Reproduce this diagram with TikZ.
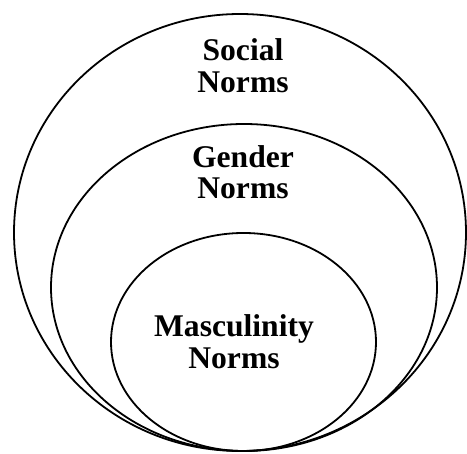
\documentclass[tikz,border=0pt]{standalone}
\usepackage{fontspec}
\setmainfont{Liberation Serif}
\usepackage{tikz}
\usetikzlibrary{positioning}
\tikzset{
  ring/.style    = {draw=black,line width=0.9pt},
  normlbl/.style = {align=center,inner sep=0pt,
                    font=\bfseries\fontsize{15.8}{15.75}\selectfont},
}

\begin{document}
\begin{tikzpicture}[x=0.5pt,y=-0.5pt]
  \useasboundingbox (0,0) rectangle (467,454);
  % nested rings, all touching at the bottom
  \draw[ring] (240,232.5) ellipse [x radius=226,y radius=218.5];
  \draw[ring] (244,287.5) ellipse [x radius=193,y radius=163.5];
  \draw[ring] (243.5,342) ellipse [x radius=132.5,y radius=109];
  % labels
  \node[normlbl] (social) at (243,65.75) {Social\\Norms};
  \node[normlbl] (gender) at (243,172) {Gender\\Norms};
  \node[normlbl] (masc)   at (234,341.75) {Masculinity\\Norms};
\end{tikzpicture}
\end{document}
